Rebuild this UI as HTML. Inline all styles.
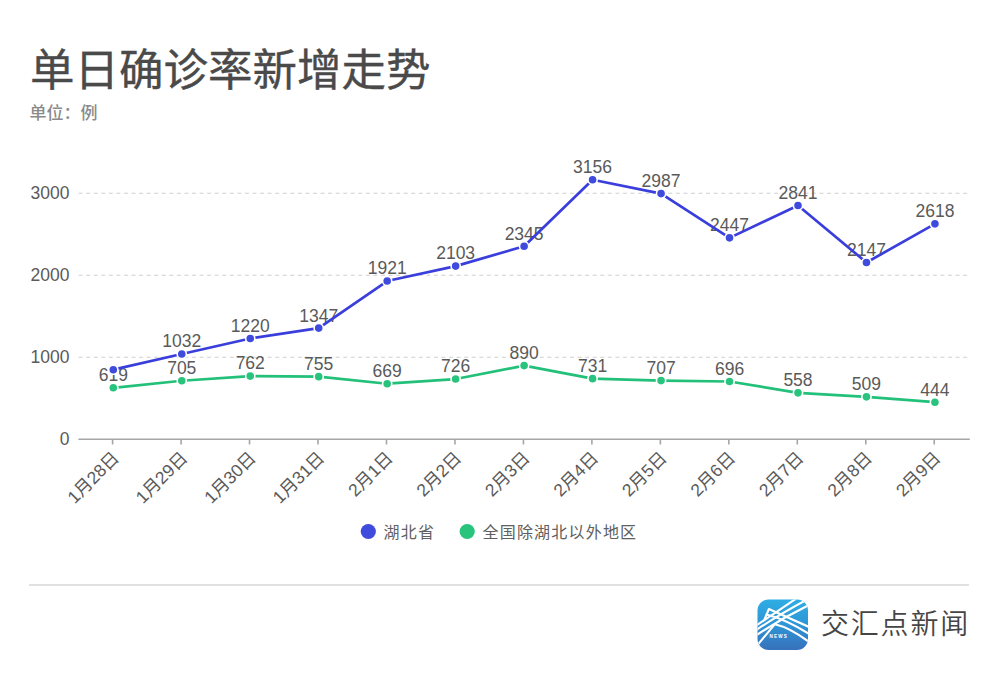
<!DOCTYPE html>
<html lang="zh-CN"><head><meta charset="utf-8"><title>单日确诊率新增走势</title>
<style>
html,body{margin:0;padding:0;background:#fff;}
body{width:1000px;height:680px;position:relative;overflow:hidden;font-family:'Liberation Sans', 'Noto Sans CJK SC', sans-serif;}
.t{position:absolute;white-space:nowrap;line-height:1;}
#title{left:30px;top:48.5px;font-size:44.5px;font-weight:400;color:#4a4a4a;-webkit-text-stroke:0.35px #4a4a4a;}
#unit{left:29.5px;top:105px;font-size:17px;font-weight:500;color:#8a8a8a;}
svg{position:absolute;left:0;top:0;}
.ax{font-size:17.5px;fill:#5a5a5a;font-family:'Liberation Sans', 'Noto Sans CJK SC', sans-serif;}
.lb{font-size:17.5px;fill:#5a5a5a;font-family:'Liberation Sans', 'Noto Sans CJK SC', sans-serif;}
.lg{font-size:16px;letter-spacing:1.2px;color:#606060;}
#sep{position:absolute;left:29px;top:584px;width:939.5px;height:2px;background:#e0e0e0;}
#brand{left:821px;top:611px;font-size:28px;letter-spacing:1.8px;color:#454545;font-weight:350;}
</style></head><body>
<div class="t" id="title">单日确诊率新增走势</div>
<div class="t" id="unit">单位：例</div>
<svg width="1000" height="680" viewBox="0 0 1000 680">
<line x1="78.6" y1="357.2" x2="969.6" y2="357.2" stroke="#cfcfcf" stroke-width="1.1" stroke-dasharray="4 3.56"/>
<line x1="78.6" y1="275.2" x2="969.6" y2="275.2" stroke="#cfcfcf" stroke-width="1.1" stroke-dasharray="4 3.56"/>
<line x1="78.6" y1="193.2" x2="969.6" y2="193.2" stroke="#cfcfcf" stroke-width="1.1" stroke-dasharray="4 3.56"/>
<text x="69.5" y="439.3" text-anchor="end" dominant-baseline="central" class="ax">0</text>
<text x="69.5" y="357.2" text-anchor="end" dominant-baseline="central" class="ax">1000</text>
<text x="69.5" y="275.2" text-anchor="end" dominant-baseline="central" class="ax">2000</text>
<text x="69.5" y="193.2" text-anchor="end" dominant-baseline="central" class="ax">3000</text>
<line x1="78.4" y1="439.3" x2="969.8" y2="439.3" stroke="#a6a6a6" stroke-width="1.6"/>
<line x1="112.6" y1="439.3" x2="112.6" y2="444.5" stroke="#a6a6a6" stroke-width="1.6"/>
<line x1="181.07" y1="439.3" x2="181.07" y2="444.5" stroke="#a6a6a6" stroke-width="1.6"/>
<line x1="249.54" y1="439.3" x2="249.54" y2="444.5" stroke="#a6a6a6" stroke-width="1.6"/>
<line x1="318.01" y1="439.3" x2="318.01" y2="444.5" stroke="#a6a6a6" stroke-width="1.6"/>
<line x1="386.48" y1="439.3" x2="386.48" y2="444.5" stroke="#a6a6a6" stroke-width="1.6"/>
<line x1="454.95" y1="439.3" x2="454.95" y2="444.5" stroke="#a6a6a6" stroke-width="1.6"/>
<line x1="523.42" y1="439.3" x2="523.42" y2="444.5" stroke="#a6a6a6" stroke-width="1.6"/>
<line x1="591.89" y1="439.3" x2="591.89" y2="444.5" stroke="#a6a6a6" stroke-width="1.6"/>
<line x1="660.36" y1="439.3" x2="660.36" y2="444.5" stroke="#a6a6a6" stroke-width="1.6"/>
<line x1="728.83" y1="439.3" x2="728.83" y2="444.5" stroke="#a6a6a6" stroke-width="1.6"/>
<line x1="797.3" y1="439.3" x2="797.3" y2="444.5" stroke="#a6a6a6" stroke-width="1.6"/>
<line x1="865.77" y1="439.3" x2="865.77" y2="444.5" stroke="#a6a6a6" stroke-width="1.6"/>
<line x1="934.24" y1="439.3" x2="934.24" y2="444.5" stroke="#a6a6a6" stroke-width="1.6"/>
<text x="115.8" y="454.8" text-anchor="end" dominant-baseline="central" class="ax" transform="rotate(-45 115.8 454.8)">1月28日</text>
<text x="184.27" y="454.8" text-anchor="end" dominant-baseline="central" class="ax" transform="rotate(-45 184.27 454.8)">1月29日</text>
<text x="252.74" y="454.8" text-anchor="end" dominant-baseline="central" class="ax" transform="rotate(-45 252.74 454.8)">1月30日</text>
<text x="321.21" y="454.8" text-anchor="end" dominant-baseline="central" class="ax" transform="rotate(-45 321.21 454.8)">1月31日</text>
<text x="389.68" y="454.8" text-anchor="end" dominant-baseline="central" class="ax" transform="rotate(-45 389.68 454.8)">2月1日</text>
<text x="458.15" y="454.8" text-anchor="end" dominant-baseline="central" class="ax" transform="rotate(-45 458.15 454.8)">2月2日</text>
<text x="526.62" y="454.8" text-anchor="end" dominant-baseline="central" class="ax" transform="rotate(-45 526.62 454.8)">2月3日</text>
<text x="595.09" y="454.8" text-anchor="end" dominant-baseline="central" class="ax" transform="rotate(-45 595.09 454.8)">2月4日</text>
<text x="663.56" y="454.8" text-anchor="end" dominant-baseline="central" class="ax" transform="rotate(-45 663.56 454.8)">2月5日</text>
<text x="732.03" y="454.8" text-anchor="end" dominant-baseline="central" class="ax" transform="rotate(-45 732.03 454.8)">2月6日</text>
<text x="800.5" y="454.8" text-anchor="end" dominant-baseline="central" class="ax" transform="rotate(-45 800.5 454.8)">2月7日</text>
<text x="868.97" y="454.8" text-anchor="end" dominant-baseline="central" class="ax" transform="rotate(-45 868.97 454.8)">2月8日</text>
<text x="937.44" y="454.8" text-anchor="end" dominant-baseline="central" class="ax" transform="rotate(-45 937.44 454.8)">2月9日</text>
<text x="113.3" y="381.22" text-anchor="middle" class="lb">619</text>
<text x="181.77" y="374.17" text-anchor="middle" class="lb">705</text>
<text x="250.24" y="369.49" text-anchor="middle" class="lb">762</text>
<text x="318.71" y="370.07" text-anchor="middle" class="lb">755</text>
<text x="387.18" y="377.12" text-anchor="middle" class="lb">669</text>
<text x="455.65" y="372.45" text-anchor="middle" class="lb">726</text>
<text x="524.12" y="358.99" text-anchor="middle" class="lb">890</text>
<text x="592.59" y="372.04" text-anchor="middle" class="lb">731</text>
<text x="661.06" y="374" text-anchor="middle" class="lb">707</text>
<text x="729.53" y="374.91" text-anchor="middle" class="lb">696</text>
<text x="798" y="386.23" text-anchor="middle" class="lb">558</text>
<text x="866.47" y="390.25" text-anchor="middle" class="lb">509</text>
<text x="934.94" y="395.58" text-anchor="middle" class="lb">444</text>
<text x="181.77" y="347.35" text-anchor="middle" class="lb">1032</text>
<text x="250.24" y="331.92" text-anchor="middle" class="lb">1220</text>
<text x="318.71" y="321.51" text-anchor="middle" class="lb">1347</text>
<text x="387.18" y="274.42" text-anchor="middle" class="lb">1921</text>
<text x="455.65" y="259.49" text-anchor="middle" class="lb">2103</text>
<text x="524.12" y="239.64" text-anchor="middle" class="lb">2345</text>
<text x="592.59" y="173.11" text-anchor="middle" class="lb">3156</text>
<text x="661.06" y="186.98" text-anchor="middle" class="lb">2987</text>
<text x="729.53" y="231.27" text-anchor="middle" class="lb">2447</text>
<text x="798" y="198.95" text-anchor="middle" class="lb">2841</text>
<text x="866.47" y="255.88" text-anchor="middle" class="lb">2147</text>
<text x="934.94" y="217.25" text-anchor="middle" class="lb">2618</text>
<polyline points="113.3,387.82 181.77,380.77 250.24,376.09 318.71,376.67 387.18,383.72 455.65,379.05 524.12,365.59 592.59,378.64 661.06,380.6 729.53,381.51 798,392.83 866.47,396.85 934.94,402.18" fill="none" stroke="#23c07a" stroke-width="2.7" stroke-linejoin="round"/>
<circle cx="113.3" cy="387.82" r="4.6" fill="#28c37d" stroke="#fff" stroke-width="1.6"/>
<circle cx="181.77" cy="380.77" r="4.6" fill="#28c37d" stroke="#fff" stroke-width="1.6"/>
<circle cx="250.24" cy="376.09" r="4.6" fill="#28c37d" stroke="#fff" stroke-width="1.6"/>
<circle cx="318.71" cy="376.67" r="4.6" fill="#28c37d" stroke="#fff" stroke-width="1.6"/>
<circle cx="387.18" cy="383.72" r="4.6" fill="#28c37d" stroke="#fff" stroke-width="1.6"/>
<circle cx="455.65" cy="379.05" r="4.6" fill="#28c37d" stroke="#fff" stroke-width="1.6"/>
<circle cx="524.12" cy="365.59" r="4.6" fill="#28c37d" stroke="#fff" stroke-width="1.6"/>
<circle cx="592.59" cy="378.64" r="4.6" fill="#28c37d" stroke="#fff" stroke-width="1.6"/>
<circle cx="661.06" cy="380.6" r="4.6" fill="#28c37d" stroke="#fff" stroke-width="1.6"/>
<circle cx="729.53" cy="381.51" r="4.6" fill="#28c37d" stroke="#fff" stroke-width="1.6"/>
<circle cx="798" cy="392.83" r="4.6" fill="#28c37d" stroke="#fff" stroke-width="1.6"/>
<circle cx="866.47" cy="396.85" r="4.6" fill="#28c37d" stroke="#fff" stroke-width="1.6"/>
<circle cx="934.94" cy="402.18" r="4.6" fill="#28c37d" stroke="#fff" stroke-width="1.6"/>
<polyline points="113.3,369.69 181.77,353.95 250.24,338.52 318.71,328.11 387.18,281.02 455.65,266.09 524.12,246.24 592.59,179.71 661.06,193.58 729.53,237.87 798,205.55 866.47,262.48 934.94,223.85" fill="none" stroke="#3a3fdc" stroke-width="2.7" stroke-linejoin="round"/>
<circle cx="113.3" cy="369.69" r="4.6" fill="#3e4bdc" stroke="#fff" stroke-width="1.6"/>
<circle cx="181.77" cy="353.95" r="4.6" fill="#3e4bdc" stroke="#fff" stroke-width="1.6"/>
<circle cx="250.24" cy="338.52" r="4.6" fill="#3e4bdc" stroke="#fff" stroke-width="1.6"/>
<circle cx="318.71" cy="328.11" r="4.6" fill="#3e4bdc" stroke="#fff" stroke-width="1.6"/>
<circle cx="387.18" cy="281.02" r="4.6" fill="#3e4bdc" stroke="#fff" stroke-width="1.6"/>
<circle cx="455.65" cy="266.09" r="4.6" fill="#3e4bdc" stroke="#fff" stroke-width="1.6"/>
<circle cx="524.12" cy="246.24" r="4.6" fill="#3e4bdc" stroke="#fff" stroke-width="1.6"/>
<circle cx="592.59" cy="179.71" r="4.6" fill="#3e4bdc" stroke="#fff" stroke-width="1.6"/>
<circle cx="661.06" cy="193.58" r="4.6" fill="#3e4bdc" stroke="#fff" stroke-width="1.6"/>
<circle cx="729.53" cy="237.87" r="4.6" fill="#3e4bdc" stroke="#fff" stroke-width="1.6"/>
<circle cx="798" cy="205.55" r="4.6" fill="#3e4bdc" stroke="#fff" stroke-width="1.6"/>
<circle cx="866.47" cy="262.48" r="4.6" fill="#3e4bdc" stroke="#fff" stroke-width="1.6"/>
<circle cx="934.94" cy="223.85" r="4.6" fill="#3e4bdc" stroke="#fff" stroke-width="1.6"/>
<circle cx="368.3" cy="531.5" r="7.6" fill="#3e4bdc"/>
<circle cx="467.2" cy="531.5" r="7.6" fill="#28c37d"/>
</svg>
<div class="t lg" style="left:383.5px;top:524.8px;">湖北省</div>
<div class="t lg" style="left:482.5px;top:524.8px;">全国除湖北以外地区</div>
<div id="sep"></div>
<svg width="52" height="52" viewBox="0 0 52 52" style="left:757px;top:599px;">
<defs><linearGradient id="lg1" x1="0" y1="0" x2="0" y2="1"><stop offset="0" stop-color="#2eade3"/><stop offset="0.5" stop-color="#2f95d6"/><stop offset="1" stop-color="#3671bb"/></linearGradient>
<clipPath id="cp"><rect x="0.5" y="0.5" width="50.5" height="50.5" rx="11"/></clipPath></defs>
<rect x="0.5" y="0.5" width="50.5" height="50.5" rx="11" fill="url(#lg1)"/>
<g clip-path="url(#cp)" fill="none" stroke="#fff" stroke-width="2.1" stroke-linejoin="round" stroke-linecap="round">
<path d="M7.3 21 L11.9 10 L53 28.4"/>
<path d="M9.6 15.6 Q 30 21 53 35.6"/>
<path d="M17.9 25.2 Q 33 28.6 53 43.6"/>
<path d="M-1 26.7 Q 20 12.5 40 -1"/>
<path d="M-1 31.2 Q 22 15.5 52 -0.5"/>
<path d="M-1 36.5 Q 25 19 53 5.5"/>
<path d="M1.5 44.8 L17.9 25.2"/>
</g>
<text x="21.8" y="38.9" text-anchor="middle" font-family="'Liberation Sans', sans-serif" font-weight="700" font-size="4.6" fill="#fff" letter-spacing="1.2">NEWS</text>
</svg>
<div class="t" id="brand">交汇点新闻</div>
</body></html>
